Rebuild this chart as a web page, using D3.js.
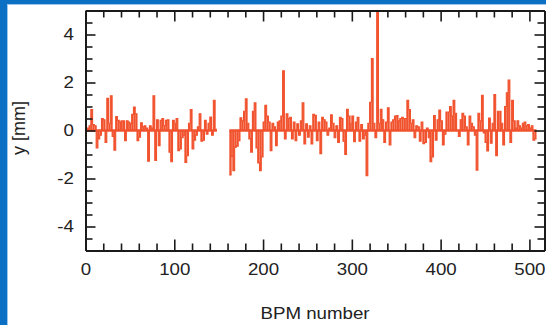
<!DOCTYPE html>
<html>
<head>
<meta charset="utf-8">
<script src="https://cdn.jsdelivr.net/npm/d3@7/dist/d3.min.js"></script>
<style>
  html, body { margin: 0; padding: 0; background: #fff; }
  svg { display: block; }
  text { font-family: "Liberation Sans", Arial, Helvetica, sans-serif; fill: #222; }
</style>
</head>
<body>
<svg id="chart" width="546" height="325"></svg>
<script>
// Orbit offset per BPM, sampled every 2 BPM numbers (null = no reading)
const bpmStep = 2;
const offsets = [
  0.05, 0.1, 0.2, 0.87, 0.25, 0.2, -0.73, -0.35, -0.2, 0.5,
  0.45, -0.5, 1.34, 0.3, 1.45, -0.25, -0.82, 0.58, 0.42, 0.35,
  0.4, 0.4, -0.43, 0.4, 0.35, 0.28, 0.67, 0.98, 0.7, -0.42,
  -0.28, 0.32, 0.15, 0.2, 0.1, -1.28, 0.2, 0.1, 1.45, -1.25,
  0.45, -0.63, 0.42, 0.5, 0.2, 0.42, 0.45, -0.9, -1.3, 0.42,
  0.3, 0.5, -0.84, -0.77, -0.3, -0.2, -1.33, -1.05, 0.3, 0.87,
  -0.77, -0.4, -0.2, 0.15, 0.7, -0.45, -0.4, 0.42, -0.15, 0.3,
  0.56, -0.2, 1.26, 0.05,
  null, null, null, null, null, null, null,
  -1.85, -1.08, -1.68, -0.7, -0.65, -0.42, 0.53, 0.4, 0.8, 1.32,
  0.3, -0.35, -0.9, 0.8, 1.15, -0.73, -1.35, -1.67, -1.1, 0.35,
  1.05, 0.6, 0.35, -0.84, 0.3, 0.15, -0.63, 0.35, 0.4, 0.6,
  2.49, -0.35, 0.7, 0.5, 0.55, -0.35, 0.35, -0.42, 0.28, -0.2,
  0.4, 1.15, -0.56, 0.28, -0.28, 0.2, -0.56, 0.68, 0.63, -0.42,
  0.35, -0.97, 0.55, 0.45, 0.35, -0.2, 0.1, 0.65, 0.3, -0.3,
  0.2, -0.5, 0.55, 0.5, -0.45, -1.0, 0.88, 0.6, 0.3, 0.6,
  -0.47, 0.35, 0.55, -0.45, 0.25, -0.35, -0.2, -1.88, 0.3, 1.18,
  3.0, 0.3, -0.3, 5.6, 0.3, 0.88, 0.45, -0.5, 0.35, 0.95,
  -0.6, 0.35, 0.45, 0.6, 0.62, 0.4, 0.5, 0.55, 0.5, 0.5,
  1.26, 0.87, 0.3, 0.45, -0.3, 0.2, 0.15, -0.45, 0.35, -0.55,
  -0.5, 0.1, -0.3, -1.3, -1.1, 0.62, -0.4, 0.45, 0.85, 0.4,
  -0.6, -0.15, 0.77, 0.77, 1.0, 0.6, 1.26, 0.72, 0.0, -0.25,
  0.45, 0.72, 0.6, 0.15, -0.6, 0.6, 0.3, 0.15, -0.2, -1.65,
  0.72, 0.4, 1.47, -0.1, -0.5, -0.85, 0.52, -0.53, 0.3, 1.5,
  -1.05, 0.8, 0.8, 0.3, -0.6, 1.0, 1.57, 2.1, -0.5, 1.26,
  0.4, 0.1, 0.4, 0.2, 0.1, 0.3, 0.35, 0.2, 0.25, 0.1,
  0.2, -0.4, -0.35
];
const bpm = offsets.map((_, i) => i * bpmStep);

const xMajorTicks = [0, 100, 200, 300, 400, 500];
const yMajorTicks = [-4, -2, 0, 2, 4];
const xLabel = "BPM number";
const yLabel = "y [mm]";

const W = 546, H = 325;
const svg = d3.select("#chart");

// blue page frame
const frameBlue = "#0b6fc4";
svg.append("rect").attr("x", 0).attr("y", 0).attr("width", 7).attr("height", H).attr("fill", frameBlue);
svg.append("rect").attr("x", 0).attr("y", 0).attr("width", W).attr("height", 4).attr("fill", frameBlue);
svg.append("rect").attr("x", 7).attr("y", 4).attr("width", 1).attr("height", H - 4).attr("fill", "#9cc6ec");
svg.append("rect").attr("x", 7).attr("y", 4).attr("width", W - 7).attr("height", 1).attr("fill", "#9cc6ec");

const plot = { left: 85.5, right: 544.5, top: 10.5, bottom: 250.5 };
const x = d3.scaleLinear().domain([0, 517]).range([plot.left, plot.right]);
const y = d3.scaleLinear().domain([-5, 5]).range([plot.bottom, plot.top]);

svg.append("clipPath").attr("id", "plotClip")
  .append("rect")
  .attr("x", plot.left).attr("y", plot.top)
  .attr("width", plot.right - plot.left).attr("height", plot.bottom - plot.top);

const lineColor = "#f1532f";
const data = bpm.map((b, i) => ({ b, v: offsets[i] })).filter(d => d.v !== null);

const marks = svg.append("g").attr("clip-path", "url(#plotClip)");

// measured stretches of BPMs (split at the missing readings)
const segments = [];
let cur = null;
bpm.forEach((b, i) => {
  if (offsets[i] === null) { cur = null; return; }
  if (!cur) { cur = { start: b, end: b, pts: [] }; segments.push(cur); }
  cur.end = b;
  cur.pts.push({ b, v: offsets[i] });
});

// zero line under each stretch
marks.selectAll("line.base").data(segments).join("line")
  .attr("class", "base")
  .attr("x1", d => x(d.start)).attr("x2", d => x(d.end + bpmStep))
  .attr("y1", y(0)).attr("y2", y(0))
  .attr("stroke", lineColor).attr("stroke-width", 2.4);

// one bar per BPM reading, drawn from zero
marks.selectAll("rect.bar").data(data).join("rect")
  .attr("class", "bar")
  .attr("x", d => x(d.b))
  .attr("width", x(bpmStep) - x(0))
  .attr("y", d => Math.min(y(d.v), y(0)))
  .attr("height", d => Math.abs(y(d.v) - y(0)))
  .attr("fill", lineColor);

// stepped trace over the bars
const stepLine = d3.line()
  .x(d => x(d.b)).y(d => y(d.v))
  .curve(d3.curveStepAfter);
marks.selectAll("path.trace").data(segments).join("path")
  .attr("class", "trace")
  .attr("d", s => stepLine(s.pts.concat([{ b: s.end + bpmStep, v: s.pts[s.pts.length - 1].v }])))
  .attr("fill", "none")
  .attr("stroke", lineColor)
  .attr("stroke-width", 1.1);

// axes: major + minor ticks on all four sides, pointing inward
const axisColor = "#1a1a1a";
const xMinor = d3.range(0, 517, 20).filter(v => v % 100 !== 0);
const yMinor = d3.range(-4.5, 5, 0.5).filter(v => v % 2 !== 0);
const plainNumber = d => String(d);

function styleAxis(g) {
  g.select(".domain").attr("stroke", axisColor).attr("stroke-width", 2);
  g.selectAll(".tick line").attr("stroke", axisColor).attr("stroke-width", 1.6);
}

const axisBottomG = svg.append("g").attr("transform", `translate(0,${plot.bottom})`)
  .call(d3.axisBottom(x).tickValues(xMajorTicks).tickSize(-11).tickSizeOuter(0).tickPadding(12).tickFormat(plainNumber));
axisBottomG.call(styleAxis);
axisBottomG.selectAll("text").attr("font-size", 17).attr("transform", "scale(1.1,1)").attr("fill", "#222");
svg.append("g").attr("transform", `translate(0,${plot.bottom})`)
  .call(d3.axisBottom(x).tickValues(xMinor).tickSize(-7).tickSizeOuter(0).tickFormat(""))
  .call(styleAxis);

svg.append("g").attr("transform", `translate(0,${plot.top})`)
  .call(d3.axisTop(x).tickValues(xMajorTicks).tickSize(-11).tickSizeOuter(0).tickFormat(""))
  .call(styleAxis);
svg.append("g").attr("transform", `translate(0,${plot.top})`)
  .call(d3.axisTop(x).tickValues(xMinor).tickSize(-7).tickSizeOuter(0).tickFormat(""))
  .call(styleAxis);

const axisLeftG = svg.append("g").attr("transform", `translate(${plot.left},0)`)
  .call(d3.axisLeft(y).tickValues(yMajorTicks).tickSize(-10).tickSizeOuter(0).tickPadding(10.5).tickFormat(plainNumber));
axisLeftG.call(styleAxis);
axisLeftG.selectAll("text").attr("font-size", 17).attr("transform", "scale(1.1,1)").attr("fill", "#222");
svg.append("g").attr("transform", `translate(${plot.left},0)`)
  .call(d3.axisLeft(y).tickValues(yMinor).tickSize(-7).tickSizeOuter(0).tickFormat(""))
  .call(styleAxis);

svg.append("g").attr("transform", `translate(${plot.right},0)`)
  .call(d3.axisRight(y).tickValues(yMajorTicks).tickSize(-10).tickSizeOuter(0).tickFormat(""))
  .call(styleAxis);
svg.append("g").attr("transform", `translate(${plot.right},0)`)
  .call(d3.axisRight(y).tickValues(yMinor).tickSize(-7).tickSizeOuter(0).tickFormat(""))
  .call(styleAxis);

// axis titles
svg.append("text")
  .attr("transform", `translate(${(plot.left + plot.right) / 2},319) scale(1.1,1)`)
  .attr("text-anchor", "middle").attr("font-size", 17)
  .text(xLabel);
svg.append("text")
  .attr("transform", `translate(25,128) rotate(-90)`)
  .attr("text-anchor", "middle").attr("font-size", 18)
  .text(yLabel);
</script>
</body>
</html>
